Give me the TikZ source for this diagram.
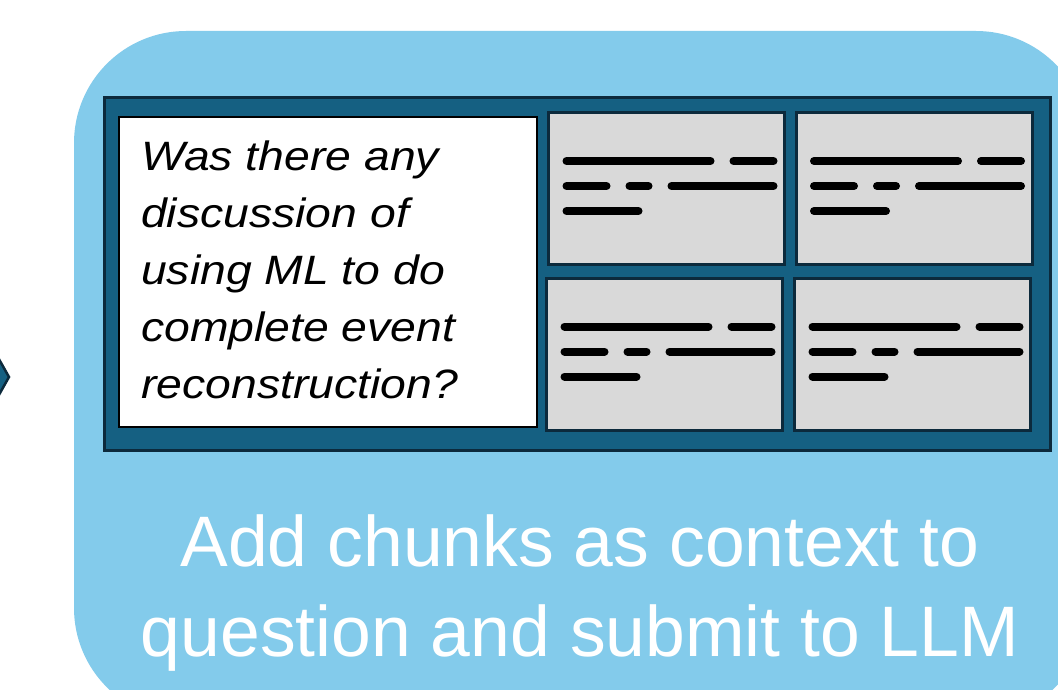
\documentclass[tikz,border=0pt]{standalone}
\usepackage{fontspec}
\setmainfont{Liberation Sans}
\newfontfamily\questionfont[FakeStretch=1.13]{Liberation Sans}
\definecolor{cardblue}{HTML}{83CBEB}
\definecolor{panelblue}{HTML}{156082}
\definecolor{edgeblue}{HTML}{0C2A3C}
\definecolor{chunkgray}{HTML}{D9D9D9}
\tikzset{
  card/.style={fill=cardblue, rounded corners=112pt, inner sep=0pt, outer sep=0pt},
  panel/.style={fill=panelblue, draw=edgeblue, line width=3pt, inner sep=0pt, outer sep=0pt},
  questionbox/.style={fill=white, draw=black, line width=2pt, inner sep=0pt, outer sep=0pt},
  chunkbox/.style={fill=chunkgray, draw=edgeblue, line width=3pt, inner sep=0pt, outer sep=0pt,
    minimum width=236pt, minimum height=152pt},
  textbar/.style={line width=8pt, line cap=round, black},
  chunktext/.pic={
    \draw[textbar] (18,48.5) -- (162,48.5) (185,48.5) -- (225,48.5)
      (18,73.5) -- (58,73.5) (81,73.5) -- (100,73.5) (123,73.5) -- (225,73.5)
      (18,98.5) -- (90,98.5);
  }
}
\begin{document}
\begin{tikzpicture}[x=1pt, y=-1pt]
  \useasboundingbox (0,0) rectangle (1058,690);
  \clip (0,0) rectangle (1058,690);
  \fill[white] (0,0) rectangle (1058,690);

  % tip of the arrow coming from the previous step
  \filldraw[fill=panelblue, draw=edgeblue, line width=2.5pt, line join=miter]
    (-40,290) -- (9,377) -- (-40,464) -- cycle;

  % step card
  \node[card, minimum width=1014pt, minimum height=689pt] (card) at (581,375.5) {};

  % panel holding the question and the retrieved chunks
  \node[panel, minimum width=946pt, minimum height=353pt] (panel) at (577.5,274) {};

  % question
  \node[questionbox, minimum width=418pt, minimum height=310pt] (question) at (328,272) {};
  \node[anchor=north west, align=left, inner sep=0pt,
        font={\questionfont\itshape\fontsize{41}{57}\selectfont}] (qtext) at (141,141)
    {Was there any\\discussion of\\using ML to do\\complete event\\reconstruction?};

  % retrieved chunks
  \node[chunkbox] (c1) at (666.5,188.5) {};
  \node[chunkbox] (c2) at (914,188.5) {};
  \node[chunkbox] (c3) at (664.5,354) {};
  \node[chunkbox] (c4) at (912.5,354) {};
  \foreach \c in {c1,c2,c3,c4} {
    \pic at (\c.north west) {chunktext};
  }

  % step caption
  \node[anchor=north, align=center, inner sep=0pt, text=white,
        font={\fontsize{71.5}{90}\selectfont}] (caption) at (580,514)
    {Add chunks as context to\\question and submit to LLM};
\end{tikzpicture}
\end{document}
